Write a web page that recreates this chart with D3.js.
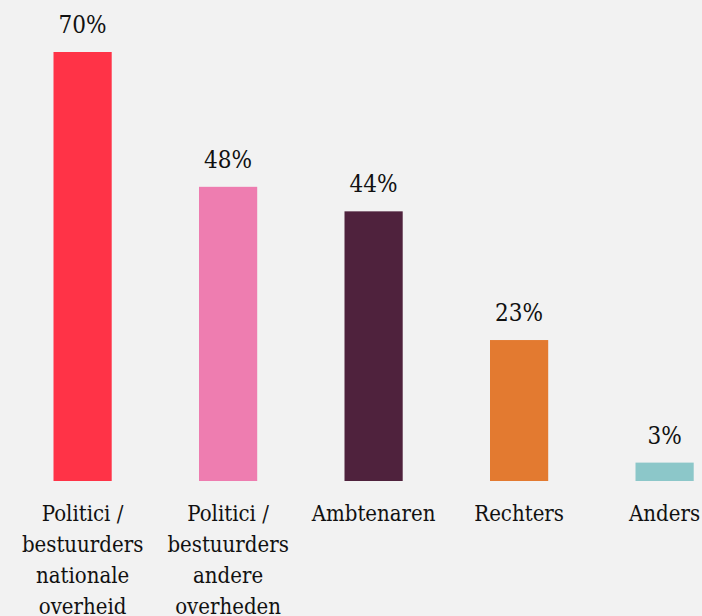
<!DOCTYPE html>
<meta charset="utf-8">
<title>Bars</title>
<style>
  body { margin:0; background:#f2f2f2; }
  svg text { fill:#111; }
</style>
<body></body>
<script src="https://d3js.org/d3.v7.min.js"></script>
<script>
// data
categories = [
  ['Politici /', 'bestuurders', 'nationale', 'overheid'],
  ['Politici /', 'bestuurders', 'andere', 'overheden'],
  ['Ambtenaren'],
  ['Rechters'],
  ['Anders']
]
values = [70, 48, 44, 23, 3]
valueLabels = ['70%', '48%', '44%', '23%', '3%']
colors = ['#ff3347', '#ee7db0', '#4f223d', '#e37a30', '#8cc7c9']

width = 702
height = 616
font = "'DejaVu Serif Condensed', 'DejaVu Serif', serif"

svg = d3.select('body').append('svg')
    .attr('width', width)
    .attr('height', height)
    .style('background', '#f2f2f2')

idx = d3.range(values.length)

x = d3.scaleBand()
    .domain(idx)
    .range([9.85, 737.35])
    .paddingInner(0.6)
    .paddingOuter(0.3)

y = d3.scaleLinear().domain([0, 70]).range([481, 52])

svg.selectAll('rect').data(idx).join('rect')
    .attr('x', i => x(i))
    .attr('width', x.bandwidth())
    .attr('y', i => y(values[i]))
    .attr('height', i => y(0) - y(values[i]))
    .attr('fill', i => colors[i])

svg.selectAll('text.val').data(idx).join('text')
    .attr('class', 'val')
    .attr('x', i => x(i) + x.bandwidth() / 2)
    .attr('y', i => y(values[i]) - 19)
    .attr('text-anchor', 'middle')
    .style('font-family', font)
    .style('font-size', '24px')
    .text(i => valueLabels[i])

// category labels, one tspan per line
cat = svg.selectAll('text.cat').data(idx).join('text')
    .attr('class', 'cat')
    .attr('text-anchor', 'middle')
    .attr('y', y(0) + 40)
    .style('font-family', font)
    .style('font-size', '22px')

cat.selectAll('tspan').data(i => categories[i].map(t => [i, t])).join('tspan')
    .attr('x', d => x(d[0]) + x.bandwidth() / 2)
    .attr('dy', (d, j) => j ? 31 : 0)
    .text(d => d[1])
</script>
